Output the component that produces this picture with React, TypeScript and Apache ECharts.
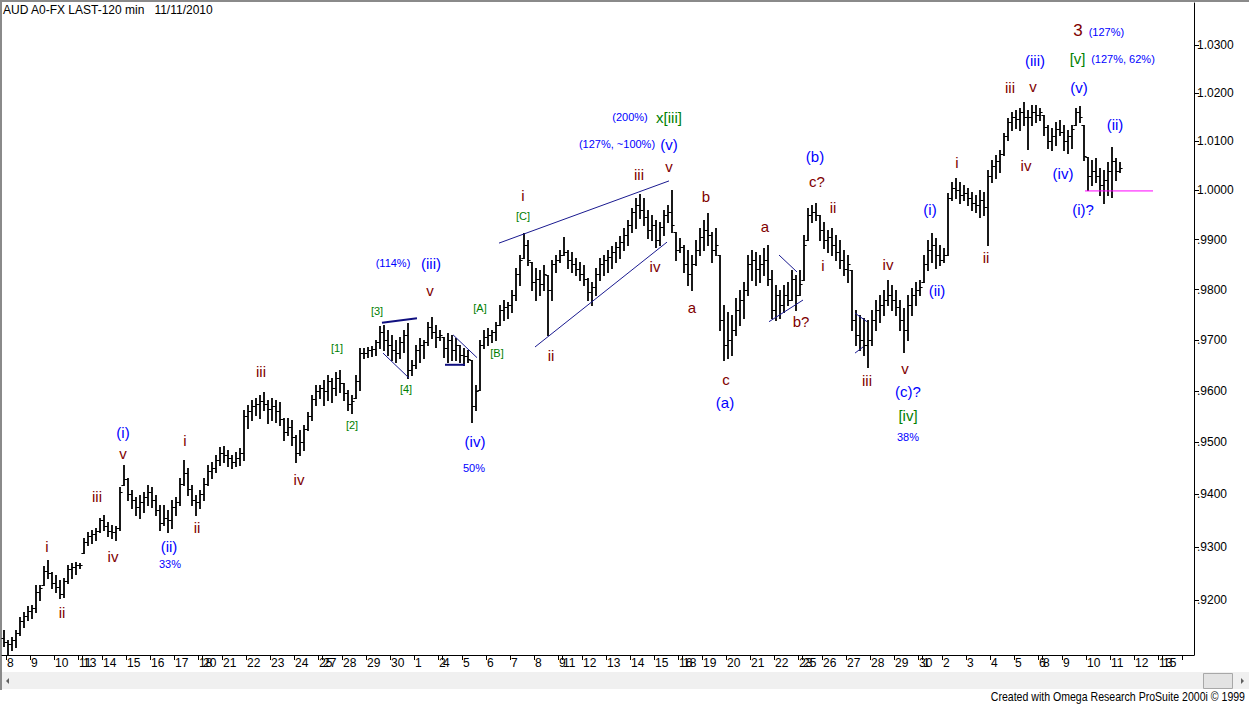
import React, { useEffect, useRef } from 'react';
import * as echarts from 'echarts';

// ---- price bars: [high, low, close] in pips (price x 10000), 4-hour bars ----
const BARS_SEP08: number[][] = [
  [9144, 9115, 9122], [9125, 9097, 9118], [9130, 9106, 9125], [9144, 9112, 9138], [9168, 9134, 9160], [9177, 9149, 9170], [9189, 9162, 9180],
  [9191, 9166, 9185], [9228, 9177, 9215], [9228, 9200, 9222], [9264, 9228, 9255], [9275, 9241, 9250], [9253, 9223, 9232],
  [9247, 9215, 9225], [9238, 9204, 9212], [9241, 9206, 9235], [9266, 9232, 9258], [9270, 9241, 9262], [9272, 9249, 9265],
  [9270, 9260, 9266],
];
const BARS_SEP13: number[][] = [
  [9317, 9289, 9310], [9328, 9304, 9320], [9332, 9307, 9325], [9336, 9313, 9330], [9355, 9328, 9350],
  [9361, 9332, 9340], [9347, 9321, 9330], [9342, 9317, 9328], [9340, 9313, 9335], [9414, 9332, 9405], [9456, 9418, 9430],
  [9431, 9389, 9400], [9408, 9374, 9390], [9395, 9361, 9375], [9399, 9355, 9385], [9404, 9366, 9395], [9418, 9380, 9405],
  [9414, 9376, 9390], [9399, 9361, 9370], [9380, 9332, 9345], [9380, 9342, 9355], [9370, 9328, 9350], [9389, 9336, 9375],
  [9395, 9361, 9385], [9431, 9380, 9420], [9466, 9418, 9440], [9451, 9399, 9410], [9418, 9380, 9390], [9399, 9361, 9385],
  [9408, 9374, 9400],
];
const BARS_SEP20: number[][] = [
  [9431, 9389, 9420], [9456, 9418, 9445], [9462, 9431, 9450], [9475, 9443, 9465], [9491, 9456, 9480],
  [9493, 9462, 9475], [9485, 9454, 9470], [9475, 9451, 9462], [9481, 9454, 9470], [9489, 9456, 9480], [9563, 9466, 9550],
  [9573, 9528, 9560], [9582, 9543, 9570], [9586, 9553, 9575], [9592, 9547, 9580], [9598, 9563, 9575], [9582, 9538, 9565],
  [9586, 9543, 9570], [9582, 9540, 9560], [9578, 9534, 9545], [9547, 9504, 9520], [9547, 9514, 9530], [9543, 9495, 9510],
  [9514, 9462, 9480], [9524, 9475, 9500], [9534, 9485, 9525], [9559, 9524, 9550], [9592, 9543, 9585], [9612, 9573, 9600],
  [9612, 9586, 9605],
];
const BARS_SEP27: number[][] = [
  [9621, 9573, 9600], [9631, 9582, 9620], [9625, 9578, 9605], [9637, 9592, 9625], [9641, 9598, 9615],
  [9615, 9582, 9595], [9602, 9563, 9575], [9592, 9557, 9580], [9631, 9586, 9620], [9684, 9602, 9675], [9684, 9665, 9675],
  [9686, 9666, 9680], [9688, 9668, 9682], [9700, 9670, 9695], [9728, 9684, 9715], [9730, 9680, 9700], [9720, 9670, 9690],
  [9710, 9661, 9680], [9700, 9657, 9675], [9706, 9665, 9695], [9720, 9676, 9710], [9734, 9625, 9640], [9661, 9631, 9650],
  [9690, 9645, 9680], [9704, 9657, 9690], [9700, 9665, 9695], [9736, 9690, 9725], [9745, 9704, 9715], [9730, 9686, 9705],
  [9720, 9700, 9710],
];
const BARS_OCT04: number[][] = [
  [9706, 9666, 9685], [9714, 9657, 9700], [9710, 9661, 9680], [9704, 9661, 9690], [9690, 9657, 9670],
  [9684, 9651, 9668], [9680, 9657, 9662], [9661, 9540, 9570], [9612, 9563, 9600], [9700, 9602, 9690], [9720, 9684, 9705],
  [9724, 9690, 9710], [9720, 9696, 9715], [9736, 9700, 9730], [9769, 9730, 9760], [9779, 9739, 9765], [9775, 9743, 9770],
  [9799, 9755, 9790], [9843, 9779, 9830], [9869, 9809, 9860], [9913, 9863, 9890], [9899, 9849, 9860], [9855, 9799, 9815],
  [9843, 9779, 9820], [9839, 9789, 9810], [9849, 9799, 9830], [9829, 9710, 9800], [9859, 9779, 9850], [9869, 9835, 9860],
  [9879, 9855, 9870],
];
const BARS_OCT11: number[][] = [
  [9905, 9869, 9875], [9879, 9843, 9860], [9875, 9835, 9850], [9863, 9829, 9840], [9855, 9819, 9830],
  [9849, 9809, 9820], [9823, 9779, 9795], [9815, 9769, 9805], [9843, 9789, 9830], [9863, 9819, 9850], [9869, 9829, 9860],
  [9879, 9835, 9865], [9887, 9843, 9875], [9895, 9855, 9885], [9907, 9863, 9895], [9924, 9879, 9910], [9940, 9889, 9930],
  [9964, 9915, 9955], [9984, 9924, 9970], [9992, 9944, 9960], [9984, 9930, 9945], [9960, 9903, 9920], [9950, 9899, 9930],
  [9940, 9885, 9900], [9936, 9889, 9925], [9960, 9909, 9950], [9970, 9936, 9955], [10000, 9915, 9930], [9915, 9859, 9880],
  [9903, 9875, 9885],
];
const BARS_OCT18: number[][] = [
  [9889, 9835, 9850], [9879, 9809, 9830], [9869, 9799, 9850], [9899, 9849, 9880], [9923, 9869, 9905],
  [9940, 9879, 9920], [9954, 9889, 9910], [9915, 9855, 9880], [9923, 9869, 9890], [9869, 9720, 9740], [9769, 9661, 9690],
  [9755, 9665, 9700], [9749, 9670, 9720], [9783, 9710, 9760], [9799, 9730, 9780], [9815, 9743, 9800], [9869, 9789, 9850],
  [9879, 9819, 9860], [9875, 9809, 9840], [9869, 9815, 9850], [9883, 9829, 9860], [9889, 9809, 9820], [9839, 9743, 9760],
  [9809, 9739, 9790], [9799, 9743, 9770], [9809, 9755, 9790], [9815, 9769, 9780], [9839, 9779, 9820], [9829, 9759, 9790],
  [9839, 9789, 9810],
];
const BARS_OCT25: number[][] = [
  [9909, 9819, 9890], [9964, 9899, 9950], [9970, 9936, 9955], [9974, 9940, 9950], [9950, 9899, 9920],
  [9936, 9883, 9900], [9919, 9875, 9905], [9923, 9869, 9890], [9909, 9859, 9875], [9899, 9843, 9860], [9879, 9829, 9840],
  [9869, 9815, 9850], [9839, 9720, 9740], [9759, 9690, 9710], [9749, 9680, 9700], [9743, 9670, 9690], [9739, 9647, 9700],
  [9759, 9690, 9740], [9779, 9720, 9760], [9789, 9736, 9770], [9799, 9749, 9780], [9819, 9769, 9790], [9809, 9759, 9780],
  [9799, 9749, 9765], [9779, 9720, 9740], [9763, 9676, 9720], [9789, 9700, 9770], [9803, 9749, 9790], [9815, 9769, 9800],
  [9819, 9789, 9805],
];
const BARS_NOV01: number[][] = [
  [9869, 9815, 9850], [9899, 9839, 9880], [9913, 9855, 9890], [9903, 9843, 9870], [9889, 9849, 9860],
  [9883, 9855, 9870], [9994, 9869, 9985], [10017, 9980, 10005], [10025, 9984, 10000], [10017, 9974, 9990], [10011, 9980, 9995],
  [10005, 9970, 9985], [9997, 9960, 9975], [9990, 9956, 9970], [10001, 9946, 9980], [9997, 9950, 9965], [10042, 9889, 10030],
  [10062, 10017, 10050], [10072, 10025, 10060], [10082, 10037, 10075], [10117, 10072, 10110], [10148, 10103, 10140], [10161, 10124, 10150],
  [10165, 10128, 10145], [10169, 10124, 10160], [10181, 10134, 10150], [10165, 10085, 10150], [10175, 10134, 10160], [10175, 10140, 10155],
  [10169, 10144, 10160],
];
const BARS_NOV08: number[][] = [
  [10154, 10113, 10130], [10134, 10086, 10100], [10128, 10082, 10110], [10140, 10093, 10125], [10144, 10113, 10120],
  [10134, 10082, 10100], [10124, 10076, 10110], [10134, 10086, 10125], [10169, 10134, 10160], [10173, 10140, 10150], [10134, 10062, 10070],
  [10068, 10001, 10030], [10062, 10011, 10040], [10066, 10017, 10030], [10046, 9990, 10010], [10042, 9974, 10020], [10058, 9990, 10040],
  [10089, 9986, 10060], [10066, 10021, 10040], [10058, 10037, 10045],
];

// ---- time axis: day labels and 4-hour bars per day ----
const LEADING_BARS = 1;
const DAY_LABELS = [
  '8', '9', '10', '11',
  '13', '14', '15', '16', '17', '18',
  '20', '21', '22', '23', '24', '25',
  '27', '28', '29', '30', '1', '2',
  '4', '5', '6', '7', '8', '9',
  '11', '12', '13', '14', '15', '16',
  '18', '19', '20', '21', '22', '23',
  '25', '26', '27', '28', '29', '30',
  '1', '2', '3', '4', '5', '6',
  '8', '9', '10', '11', '12', '13',
  '15', '',
];
const DAY_BAR_COUNTS = [
  6, 6, 6, 1,
  5, 6, 6, 6, 6, 1,
  5, 6, 6, 6, 6, 1,
  5, 6, 6, 6, 6, 1,
  5, 6, 6, 6, 6, 1,
  5, 6, 6, 6, 6, 1,
  5, 6, 6, 6, 6, 1,
  5, 6, 6, 6, 6, 1,
  5, 6, 6, 6, 6, 1,
  5, 6, 6, 6, 6, 1,
  5, 3,
];

// ---- price axis ----
const PRICE_TICKS = [0.92, 0.93, 0.94, 0.95, 0.96, 0.97, 0.98, 0.99, 1.0, 1.01, 1.02, 1.03];
const PRICE_MIN = 0.90975;
const PRICE_MAX = 1.03884;

// ---- annotations: [text, bar index, price in pips] ----
const MINOR_WAVES: [string, number, number][] = [
  ['i', 10.75, 9300], ['ii', 14.5, 9177], ['iii', 23.25, 9395], ['iv', 27.25, 9281], ['v', 29.75, 9479],
  ['i', 45.25, 9503], ['ii', 48.25, 9336], ['iii', 64.25, 9637], ['iv', 73.75, 9428],
  ['v', 106.5, 9799],
  ['i', 129.75, 9990], ['ii', 136.75, 9670], ['iii', 158.75, 10033], ['iv', 162.75, 9845], ['v', 166.25, 10048],
  ['a', 172, 9765], ['b', 175.5, 9988], ['c', 180.5, 9623],
  ['a', 190.25, 9926], ['b?', 199.25, 9736], ['c?', 203.25, 10017],
  ['i', 204.75, 9847], ['ii', 207.25, 9964], ['iii', 215.75, 9621], ['iv', 221, 9849], ['v', 225.25, 9643],
  ['i', 238.25, 10056], ['ii', 245.5, 9865], ['iii', 251.5, 10212], ['iv', 255.5, 10050], ['v', 257.25, 10214],
];
const MINUTE_WAVES: [string, number, number][] = [
  ['(i)', 29.75, 9518], ['(ii)', 41.25, 9300], ['(iii)', 106.75, 9853], ['(iv)', 117.75, 9501], ['(v)', 166.25, 10093],
  ['(a)', 180.25, 9578], ['(b)', 202.75, 10068], ['(c)?', 226, 9598],
  ['(i)', 231.5, 9960], ['(ii)', 233.25, 9799], ['(iii)', 257.75, 10267], ['(iv)', 264.75, 10035], ['(v)', 268.75, 10212],
  ['(i)?', 269.75, 9960], ['(ii)', 277.75, 10134],
];
const RATIOS: [string, number, number][] = [
  ['33%', 41.5, 9268], ['(114%)', 97.25, 9853], ['50%', 117.5, 9451], ['(127%, ~100%)', 153.25, 10095],
  ['(200%)', 156.5, 10150], ['38%', 226, 9510], ['(127%, 62%)', 279.75, 10271], ['(127%)', 275.6, 10327],
];
const SUB_WAVES: [string, number, number][] = [
  ['[1]', 83.25, 9684], ['[2]', 87, 9534], ['[3]', 93.25, 9757], ['[4]', 100.5, 9604],
  ['[A]', 119, 9763], ['[B]', 123.25, 9674], ['[C]', 129.75, 9948],
];
const MINOR_DEGREE: [string, number, number][] = [
  ['x[iii]', 166.25, 10150], ['[iv]', 226, 9551], ['[v]', 268.4, 10271],
];
const INTERMEDIATE: [string, number, number][] = [['3', 268.5, 10331]];

// ---- trend lines: [bar1, price1, bar2, price2] ----
const HEAVY_LINES: number[][] = [
  [94.5, 9734, 103.25, 9743], [110.25, 9651, 115.25, 9651],
];
const THIN_LINES: number[][] = [
  [94.75, 9674, 101.25, 9625], [112.25, 9710, 118.25, 9665],
  [123.75, 9893, 166.25, 10019], [132.75, 9686, 165.75, 9895],
  [193.75, 9869, 198.25, 9835], [191.25, 9736, 199.75, 9779],
  [212.75, 9753, 215.75, 9736], [212.75, 9674, 214.75, 9686],
];
const SUPPORT_LINES: number[][] = [[270.25, 9998.6, 287.25, 9998.6]];

const FONT = '"Liberation Sans", Arial, Helvetica, sans-serif';

function fmtPrice(v: number): string {
  const p = Math.round(Math.exp(v) * 10000) / 10000;
  const s = p.toFixed(4);
  return s.startsWith('0') ? s.slice(1) : s;
}

export default function App() {
  const ref = useRef<HTMLDivElement>(null);

  useEffect(() => {
    if (!ref.current) return;
    const chart = echarts.init(ref.current, undefined, { renderer: 'svg' });

    const bars = [
      ...BARS_SEP08, ...BARS_SEP13, ...BARS_SEP20, ...BARS_SEP27, ...BARS_OCT04,
      ...BARS_OCT11, ...BARS_OCT18, ...BARS_OCT25, ...BARS_NOV01, ...BARS_NOV08,
    ];
    const ohlc = bars.map(([h, l, c], i) => {
      const prev = i > 0 ? bars[i - 1][2] : (h + l) / 2;
      const o = Math.min(h, Math.max(l, prev));
      return [i, Math.log(o / 1e4), Math.log(h / 1e4), Math.log(l / 1e4), Math.log(c / 1e4)];
    });

    const dayTickValues: number[] = [];
    const dayLabelMap = new Map<string, string>();
    let start = LEADING_BARS;
    DAY_LABELS.forEach((lab, k) => {
      const v = start - 0.5;
      dayTickValues.push(v);
      dayLabelMap.set(v.toFixed(1), lab);
      start += DAY_BAR_COUNTS[k];
    });
    const totalBars = start;
    const priceTickValues = PRICE_TICKS.map((p) => Math.log(p));

    const textSeries = (items: [string, number, number][], color: string, size: number) => ({
      type: 'custom',
      coordinateSystem: 'cartesian2d',
      silent: true,
      clip: false,
      z: 5,
      encode: { x: 0, y: 1 },
      data: items.map(([, b, p]) => [b, Math.log(p / 1e4)]),
      renderItem: (params: any, api: any) => {
        const pt = api.coord([api.value(0), api.value(1)]);
        return {
          type: 'text',
          x: pt[0],
          y: pt[1],
          style: {
            text: items[params.dataIndex][0],
            fill: color,
            font: `${size}px ${FONT}`,
            align: 'center',
            verticalAlign: 'middle',
          },
        };
      },
    });

    const lineSeries = (items: number[][], color: string, width: number) => ({
      type: 'custom',
      coordinateSystem: 'cartesian2d',
      silent: true,
      z: 4,
      encode: { x: [0, 2], y: [1, 3] },
      data: items.map(([b1, p1, b2, p2]) => [b1, Math.log(p1 / 1e4), b2, Math.log(p2 / 1e4)]),
      renderItem: (params: any, api: any) => {
        const a = api.coord([api.value(0), api.value(1)]);
        const b = api.coord([api.value(2), api.value(3)]);
        return {
          type: 'line',
          shape: { x1: a[0], y1: a[1], x2: b[0], y2: b[1] },
          style: { stroke: color, lineWidth: width },
        };
      },
    });

    chart.setOption({
      animation: false,
      backgroundColor: '#ffffff',
      grid: { left: 2, right: 55, top: 3, bottom: 50 },
      xAxis: {
        type: 'value',
        min: -0.5,
        max: totalBars - 0.5,
        splitLine: { show: false },
        axisLine: { show: true, onZero: false, lineStyle: { color: '#000', width: 1 } },
        axisTick: { show: true, customValues: dayTickValues, length: 5, lineStyle: { color: '#000' } },
        axisLabel: {
          show: true,
          customValues: dayTickValues,
          formatter: (v: number) => dayLabelMap.get(v.toFixed(1)) ?? '',
          align: 'left',
          margin: 2,
          padding: [0, 0, 0, 1],
          color: '#000',
          fontSize: 12,
          fontFamily: FONT,
        },
      },
      yAxis: {
        type: 'value',
        position: 'right',
        min: Math.log(PRICE_MIN),
        max: Math.log(PRICE_MAX),
        splitLine: { show: false },
        axisLine: { show: true, onZero: false, lineStyle: { color: '#000', width: 1 } },
        axisTick: { show: true, customValues: priceTickValues, length: 5, lineStyle: { color: '#000' } },
        axisLabel: {
          show: true,
          customValues: priceTickValues,
          formatter: fmtPrice,
          margin: 3,
          color: '#000',
          fontSize: 12,
          fontFamily: FONT,
        },
      },
      graphic: [
        { type: 'rect', shape: { x: 0, y: 0, width: 1249, height: 2 }, style: { fill: '#8a8a8a' }, silent: true },
        { type: 'rect', shape: { x: 0, y: 0, width: 2, height: 690 }, style: { fill: '#8a8a8a' }, silent: true },
        { type: 'rect', shape: { x: 2, y: 672, width: 1247, height: 17 }, style: { fill: '#f0f0f0' }, silent: true },
        { type: 'polygon', shape: { points: [[6, 681], [9, 678], [9, 684]] }, style: { fill: '#606060' }, silent: true },
        { type: 'rect', shape: { x: 1203.5, y: 673.5, width: 29, height: 15 }, style: { fill: '#e3e3e3', stroke: '#a8a8a8', lineWidth: 1 }, silent: true },
        { type: 'polygon', shape: { points: [[1241, 678], [1241, 684], [1244, 681]] }, style: { fill: '#606060' }, silent: true },
        {
          type: 'text', left: 3, top: 4, silent: true,
          style: { text: 'AUD A0-FX LAST-120 min   11/11/2010', fill: '#000', font: `12px ${FONT}` },
        },
        {
          type: 'text', x: 1245, y: 697, scaleX: 0.88, silent: true,
          style: {
            text: 'Created with Omega Research ProSuite 2000i \u00a9 1999', fill: '#000',
            font: `12px ${FONT}`, align: 'right', verticalAlign: 'middle',
          },
        },
      ],
      series: [
        {
          type: 'custom',
          coordinateSystem: 'cartesian2d',
          silent: true,
          z: 3,
          encode: { x: 0, y: [1, 2, 3, 4] },
          data: ohlc,
          renderItem: (params: any, api: any) => {
            const i = api.value(0);
            const ph = api.coord([i, api.value(2)]);
            const pl = api.coord([i, api.value(3)]);
            const po = api.coord([i, api.value(1)]);
            const pc = api.coord([i, api.value(4)]);
            const x = Math.round(ph[0]);
            const yo = Math.round(po[1]) + 0.5;
            const yc = Math.round(pc[1]) + 0.5;
            return {
              type: 'group',
              children: [
                { type: 'line', shape: { x1: x, y1: Math.round(ph[1]), x2: x, y2: Math.round(pl[1]) + 1 }, style: { stroke: '#000', lineWidth: 1.8 } },
                { type: 'line', shape: { x1: x - 2.6, y1: yo, x2: x, y2: yo }, style: { stroke: '#000', lineWidth: 1 } },
                { type: 'line', shape: { x1: x, y1: yc, x2: x + 2.6, y2: yc }, style: { stroke: '#000', lineWidth: 1 } },
              ],
            };
          },
        },
        lineSeries(HEAVY_LINES, '#101080', 2),
        lineSeries(THIN_LINES, '#1a1a90', 1),
        lineSeries(SUPPORT_LINES, '#ff00ff', 1),
        textSeries(MINOR_WAVES, '#800000', 15),
        textSeries(MINUTE_WAVES, '#0000ff', 15),
        textSeries(RATIOS, '#0000ff', 11),
        textSeries(SUB_WAVES, '#008000', 11),
        textSeries(MINOR_DEGREE, '#008000', 15),
        textSeries(INTERMEDIATE, '#800000', 17),
      ],
    } as any);

    return () => chart.dispose();
  }, []);

  return (
    <div
      ref={ref}
      style={{ position: 'fixed', left: 0, top: 0, width: 1249, height: 705, background: '#fff' }}
    />
  );
}
